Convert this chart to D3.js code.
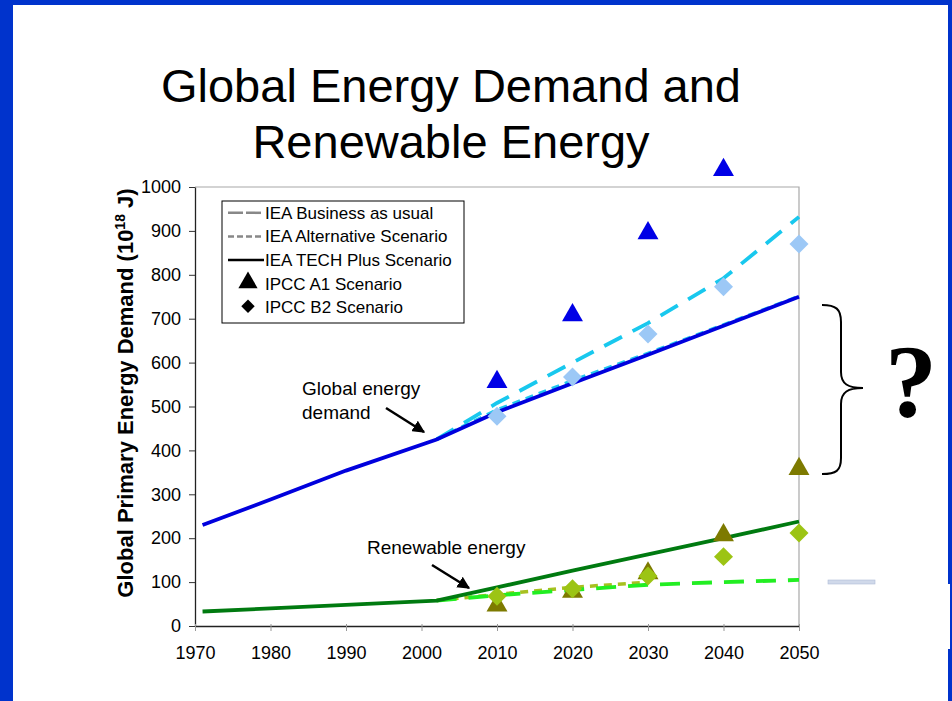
<!DOCTYPE html>
<html>
<head>
<meta charset="utf-8">
<script src="https://cdn.jsdelivr.net/npm/d3@7"></script>
<style>
  body { margin: 0; background: #fff; }
  svg text { font-family: "Liberation Sans", Arial, sans-serif; }
</style>
</head>
<body>
<svg id="chart" width="952" height="701"></svg>
<script>
// ---- data ----
var xTicks = [1970, 1980, 1990, 2000, 2010, 2020, 2030, 2040, 2050];
var yTicks = [0, 100, 200, 300, 400, 500, 600, 700, 800, 900, 1000];

// global energy demand
var demandTech = [[1971, 230], [1980, 288], [1990, 354], [2002, 425], [2010, 487], [2020, 553], [2030, 618], [2040, 684], [2050, 750]];
var demandAlt  = [[2002, 425], [2010, 492], [2020, 559], [2030, 621], [2040, 686], [2050, 751]];
var demandBau  = [[2002, 425], [2010, 508], [2020, 600], [2030, 690], [2040, 792], [2050, 932]];
var demandA1   = [[2010, 556], [2020, 708], [2030, 895], [2040, 1039]];
var demandB2   = [[2010, 478], [2020, 567], [2030, 665], [2040, 773], [2050, 870]];

// renewable energy
var renewTech = [[1971, 33], [1980, 40], [1990, 48], [2002, 58], [2010, 88], [2020, 126], [2030, 163], [2040, 200], [2050, 238]];
var renewAlt  = [[2002, 58], [2010, 72], [2020, 88], [2030, 100]];
var renewBau  = [[2002, 58], [2010, 70], [2020, 82], [2030, 94], [2040, 100], [2050, 105]];
var renewA1   = [[2010, 47], [2020, 78], [2030, 120], [2040, 207], [2050, 358]];
var renewB2   = [[2010, 68], [2020, 85], [2030, 114], [2040, 158], [2050, 212]];

var legendItems = ["IEA Business as usual", "IEA Alternative Scenario", "IEA TECH Plus Scenario", "IPCC A1 Scenario", "IPCC B2 Scenario"];

var svg = d3.select("#chart");

// slide frame
var frameBlue = "#0033cc";
svg.append("rect").attr("x", 0).attr("y", 0).attr("width", 952).attr("height", 5).attr("fill", frameBlue);
svg.append("rect").attr("x", 0).attr("y", 0).attr("width", 13).attr("height", 701).attr("fill", frameBlue);
svg.append("rect").attr("x", 948).attr("y", 0).attr("width", 4).attr("height", 584).attr("fill", frameBlue);
svg.append("rect").attr("x", 950).attr("y", 584).attr("width", 2).attr("height", 65).attr("fill", frameBlue);
svg.append("rect").attr("x", 948).attr("y", 649).attr("width", 4).attr("height", 52).attr("fill", frameBlue);

// title
svg.append("text").attr("x", 451).attr("y", 102).attr("text-anchor", "middle")
  .style("font-size", "47px").text("Global Energy Demand and");
svg.append("text").attr("x", 451).attr("y", 158).attr("text-anchor", "middle")
  .style("font-size", "47px").text("Renewable Energy");

// scales
var x = d3.scaleLinear().domain([1970, 2050]).range([195, 799]);
var y = d3.scaleLinear().domain([0, 1000]).range([626, 187]);

// plot frame (top and right in grey)
svg.append("path")
  .attr("d", "M" + x(1970) + "," + y(1000) + "H" + x(2050) + "V" + y(0))
  .attr("fill", "none").attr("stroke", "#a8a8a8").attr("stroke-width", 1.2);

// axes
var yAxis = svg.append("g").attr("transform", "translate(" + x(1970) + ",0)")
  .call(d3.axisLeft(y).tickValues(yTicks).tickFormat(d3.format("d")).tickSize(6).tickSizeOuter(0).tickPadding(8));
var xAxis = svg.append("g").attr("transform", "translate(0," + y(0) + ")")
  .call(d3.axisBottom(x).tickValues(xTicks).tickFormat(d3.format("d")).tickSize(5).tickSizeOuter(0).tickPadding(15));
[xAxis, yAxis].forEach(function(a) {
  a.select(".domain").attr("stroke", "#222").attr("stroke-width", 1.3);
  a.selectAll(".tick line").attr("stroke", "#333");
  a.selectAll("text").style("font-size", "18px").style("font-family", "Liberation Sans, Arial, sans-serif").attr("fill", "#000");
});
xAxis.selectAll(".tick line").attr("y1", -2).attr("stroke", "#999");

// y axis title
var yTitle = svg.append("text")
  .attr("transform", "translate(133,393) rotate(-90)")
  .attr("text-anchor", "middle")
  .style("font-size", "22px").style("font-weight", "bold");
yTitle.append("tspan").text("Global Primary Energy Demand (10");
yTitle.append("tspan").attr("dy", -8).style("font-size", "14px").text("18");
yTitle.append("tspan").attr("dy", 8).text(" J)");

// lines
var line = d3.line().x(function(d) { return x(d[0]); }).y(function(d) { return y(d[1]); });
function drawLine(data, color, width, dash) {
  svg.append("path").datum(data).attr("d", line)
    .attr("fill", "none").attr("stroke", color).attr("stroke-width", width)
    .attr("stroke-dasharray", dash || null);
}
drawLine(renewAlt, "#a8c020", 3.5, "8,6");
drawLine(renewBau, "#22ee22", 3.8, "20,12");
drawLine(renewTech, "#007a10", 3.8);
drawLine(demandAlt, "#22c8ee", 3.5, "8,6");
drawLine(demandBau, "#18c8ee", 3.8, "20,12");
drawLine(demandTech, "#0000dd", 3.8);

// markers
var tri = d3.symbol().type(d3.symbolTriangle).size(190);
var dia = d3.symbol().type(d3.symbolSquare).size(180);
function drawMarks(data, shape, color, rot) {
  svg.append("g").selectAll("path").data(data).join("path")
    .attr("d", shape)
    .attr("transform", function(d) { return "translate(" + x(d[0]) + "," + y(d[1]) + ")" + (rot ? " rotate(45)" : ""); })
    .attr("fill", color);
}
drawMarks(renewA1, tri, "#7d7a00", false);
drawMarks(renewB2, dia, "#9cc414", true);
drawMarks(demandA1, tri, "#0000e6", false);
drawMarks(demandB2, dia, "#9cc8f6", true);

// legend
var lg = svg.append("g").attr("transform", "translate(222,201)");
lg.append("rect").attr("width", 242).attr("height", 122)
  .attr("fill", "#fff").attr("stroke", "#000").attr("stroke-width", 1);
var lgRow = d3.scaleBand().domain(legendItems).range([0, 118]);
var rows = lg.selectAll("g.item").data(legendItems).join("g").attr("class", "item")
  .attr("transform", function(d) { return "translate(0," + (lgRow(d) + lgRow.bandwidth() / 2) + ")"; });
rows.append("text").attr("x", 43).attr("y", 6).style("font-size", "17px").text(function(d) { return d; });
rows.each(function(d, i) {
  var g = d3.select(this);
  if (i < 3) {
    g.append("line").attr("x1", 6).attr("x2", 42).attr("y1", 0).attr("y2", 0)
      .attr("stroke", i === 2 ? "#000" : "#888").attr("stroke-width", 2.5)
      .attr("stroke-dasharray", i === 0 ? "15,3" : (i === 1 ? "6,3" : null));
  } else {
    g.append("path").attr("d", i === 3 ? d3.symbol().type(d3.symbolTriangle).size(160) : d3.symbol().type(d3.symbolSquare).size(90))
      .attr("transform", "translate(26,-1)" + (i === 4 ? " rotate(45)" : ""))
      .attr("fill", "#000");
  }
});

// annotations
svg.append("defs").append("marker").attr("id", "head")
  .attr("viewBox", "0 0 10 10").attr("refX", 9).attr("refY", 5)
  .attr("markerWidth", 5).attr("markerHeight", 5).attr("orient", "auto")
  .append("path").attr("d", "M0,0L10,5L0,10z").attr("fill", "#000");

svg.append("text").attr("x", 302).attr("y", 395).style("font-size", "19px").text("Global energy");
svg.append("text").attr("x", 302).attr("y", 419).style("font-size", "19px").text("demand");
svg.append("line").attr("x1", 386).attr("y1", 408).attr("x2", 424).attr("y2", 432)
  .attr("stroke", "#000").attr("stroke-width", 2.5).attr("marker-end", "url(#head)");

svg.append("text").attr("x", 367).attr("y", 554).style("font-size", "19px").text("Renewable energy");
svg.append("line").attr("x1", 432).attr("y1", 565).attr("x2", 469).attr("y2", 588)
  .attr("stroke", "#000").attr("stroke-width", 2.5).attr("marker-end", "url(#head)");

// brace and question mark
svg.append("path")
  .attr("d", "M822,305 C836,305 841,309 841,322 L841,372 C841,384 848,388 863,388 C848,388 841,392 841,404 L841,458 C841,471 836,474 822,474")
  .attr("fill", "none").attr("stroke", "#000").attr("stroke-width", 2);
svg.append("text").attr("x", 911).attr("y", 417).attr("text-anchor", "middle")
  .style("font-family", "Liberation Serif, DejaVu Serif, serif").style("font-weight", "bold")
  .style("font-size", "104px").text("?");

// small stray bar at right
svg.append("rect").attr("x", 828).attr("y", 580).attr("width", 47).attr("height", 4)
  .attr("fill", "#d0d9ea").attr("stroke", "#aebcd6").attr("stroke-width", 0.6);
</script>
</body>
</html>
